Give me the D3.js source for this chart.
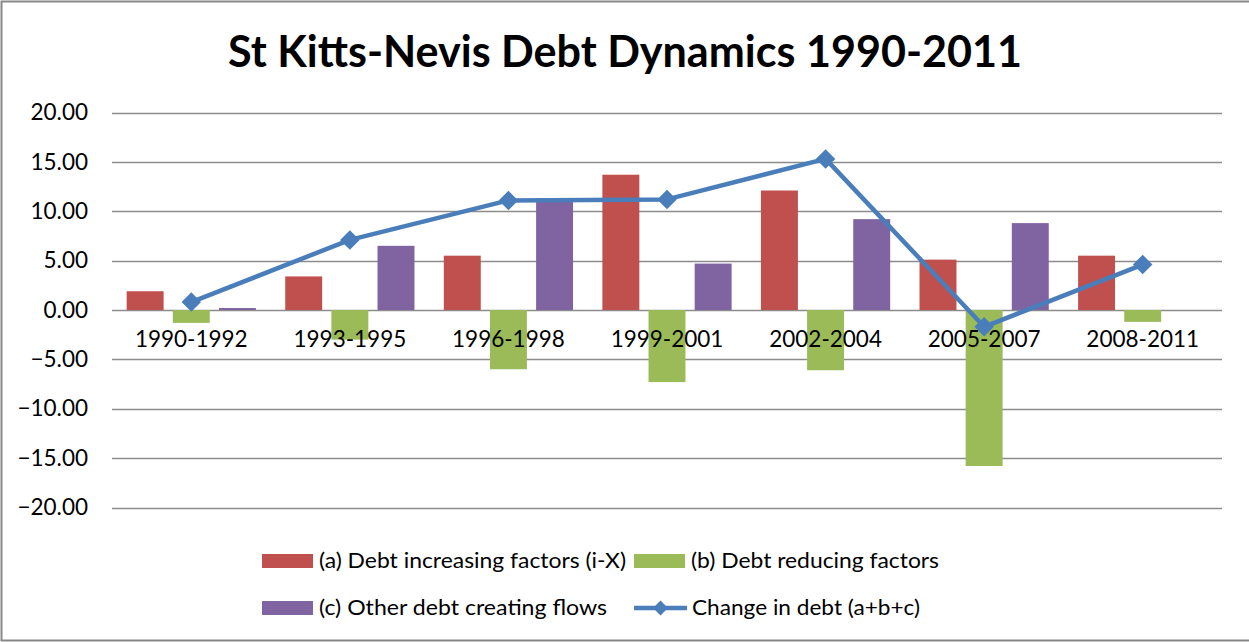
<!DOCTYPE html>
<html>
<head>
<meta charset="utf-8">
<script src="https://cdn.jsdelivr.net/npm/d3@7"></script>
<style>
  html, body { margin: 0; padding: 0; background: #fff; }
  svg { display: block; }
  text { font-family: Lato, "Open Sans", sans-serif; fill: #000; }
</style>
</head>
<body>
<svg id="chart" width="1249" height="642"></svg>
<script>
// Period groups on the x axis
const categories = ["1990-1992", "1993-1995", "1996-1998", "1999-2001", "2002-2004", "2005-2007", "2008-2011"];
// Bar series (percentage points of GDP)
const debtIncreasing = [1.9, 3.4, 5.5, 13.7, 12.1, 5.1, 5.5];
const debtReducing = [-1.3, -3.0, -6.0, -7.3, -6.1, -15.8, -1.2];
const otherFlows = [0.2, 6.5, 11.3, 4.7, 9.2, 8.8, 0];
// Line series
const changeInDebt = [0.8, 7.1, 11.1, 11.2, 15.3, -1.7, 4.6];
// Value axis ticks
const yTicks = [20, 15, 10, 5, 0, -5, -10, -15, -20];

const seriesNames = ["(a) Debt increasing factors (i-X)", "(b) Debt reducing factors", "(c) Other debt creating flows", "Change in debt (a+b+c)"];
const barColors = ["#c0504d", "#9bbb59", "#8064a2"];
const lineColor = "#4a7ebb";

const svg = d3.select("#chart");
const W = 1249, H = 642;
const plot = { left: 112, right: 1222, top: 112.5, bottom: 507.5 };
const labelFont = 22.5;

// Outer chart border
svg.append("rect")
  .attr("x", 1.5).attr("y", 1.5)
  .attr("width", W + 4).attr("height", H - 3)
  .attr("fill", "#fff").attr("stroke", "#878787").attr("stroke-width", 2);

// Title
svg.append("text")
  .attr("x", 625).attr("y", 67)
  .attr("text-anchor", "middle")
  .attr("font-weight", "bold")
  .attr("font-size", 44)
  .attr("textLength", 794).attr("lengthAdjust", "spacingAndGlyphs")
  .text("St Kitts-Nevis Debt Dynamics 1990-2011");

const x = d3.scaleBand().domain(categories).range([plot.left, plot.right]).padding(0);
const y = d3.scaleLinear().domain([-20, 20]).range([plot.bottom, plot.top]);

// Horizontal gridlines
svg.append("g")
  .selectAll("line")
  .data(yTicks)
  .join("line")
  .attr("x1", plot.left).attr("x2", plot.right)
  .attr("y1", d => Math.round(y(d)) + 0.5).attr("y2", d => Math.round(y(d)) + 0.5)
  .attr("stroke", "#8c8c8c").attr("stroke-width", 1.3);

// Y axis labels
const yAxis = d3.axisLeft(y).tickValues(yTicks).tickFormat(d3.format(".2f")).tickSize(0).tickPadding(0);
const yG = svg.append("g").attr("transform", `translate(88,0)`).call(yAxis);
yG.select(".domain").remove();
yG.selectAll("text").attr("font-size", labelFont).attr("fill", "#000")
  .style("font-family", "Lato, 'Open Sans', sans-serif");

// Clustered bars
const bw = x.bandwidth();
const barW = bw * 0.233;
const step = bw * 0.291;
const barSeries = [debtIncreasing, debtReducing, otherFlows];
barSeries.forEach((vals, si) => {
  svg.append("g")
    .selectAll("rect")
    .data(vals.map((v, i) => ({ c: categories[i], v })))
    .join("rect")
    .attr("x", d => x(d.c) + bw / 2 + (si - 1) * step - barW / 2)
    .attr("width", barW)
    .attr("y", d => Math.min(y(d.v), y(0)))
    .attr("height", d => Math.abs(y(d.v) - y(0)))
    .attr("fill", barColors[si]);
});

// Category labels (drawn across the zero line)
const xAxis = d3.axisBottom(x).tickSize(0).tickPadding(0);
const xG = svg.append("g").attr("transform", `translate(0,${y(0) + 21})`).call(xAxis);
xG.select(".domain").remove();
xG.selectAll("text").attr("font-size", labelFont).attr("fill", "#000").attr("dy", "0.71em")
  .attr("y", 0)
  .style("font-family", "Lato, 'Open Sans', sans-serif");

// Change in debt line with diamond markers
const line = d3.line().x((d, i) => x(categories[i]) + bw / 2).y(d => y(d));
svg.append("path")
  .datum(changeInDebt)
  .attr("d", line)
  .attr("fill", "none").attr("stroke", lineColor).attr("stroke-width", 4.5)
  .attr("stroke-linejoin", "round");

svg.append("g")
  .selectAll("path")
  .data(changeInDebt)
  .join("path")
  .attr("transform", (d, i) => `translate(${x(categories[i]) + bw / 2},${y(d)}) rotate(45)`)
  .attr("d", d3.symbol().type(d3.symbolSquare).size(190))
  .attr("fill", lineColor);

// Legend
const legendItems = [
  { name: seriesNames[0], type: "bar", color: barColors[0], x: 262, y: 561, w: 307 },
  { name: seriesNames[1], type: "bar", color: barColors[1], x: 634, y: 561, w: 248 },
  { name: seriesNames[2], type: "bar", color: barColors[2], x: 262, y: 608, w: 288 },
  { name: seriesNames[3], type: "line", color: lineColor, x: 634, y: 608, w: 228 }
];
const lg = svg.append("g")
  .selectAll("g")
  .data(legendItems)
  .join("g")
  .attr("transform", d => `translate(${d.x},${d.y})`);
lg.filter(d => d.type === "bar").append("rect")
  .attr("x", 0).attr("y", -7).attr("width", 51).attr("height", 14)
  .attr("fill", d => d.color);
lg.filter(d => d.type === "line").append("line")
  .attr("x1", 0).attr("x2", 53).attr("y1", 0).attr("y2", 0)
  .attr("stroke", d => d.color).attr("stroke-width", 4.5);
lg.filter(d => d.type === "line").append("path")
  .attr("transform", "translate(26.5,0) rotate(45)")
  .attr("d", d3.symbol().type(d3.symbolSquare).size(110))
  .attr("fill", d => d.color);
lg.append("text")
  .attr("x", d => d.type === "line" ? 58 : 57).attr("y", 0).attr("dy", "0.35em")
  .attr("font-size", 21)
  .attr("textLength", d => d.w).attr("lengthAdjust", "spacingAndGlyphs")
  .text(d => d.name);
</script>
</body>
</html>
